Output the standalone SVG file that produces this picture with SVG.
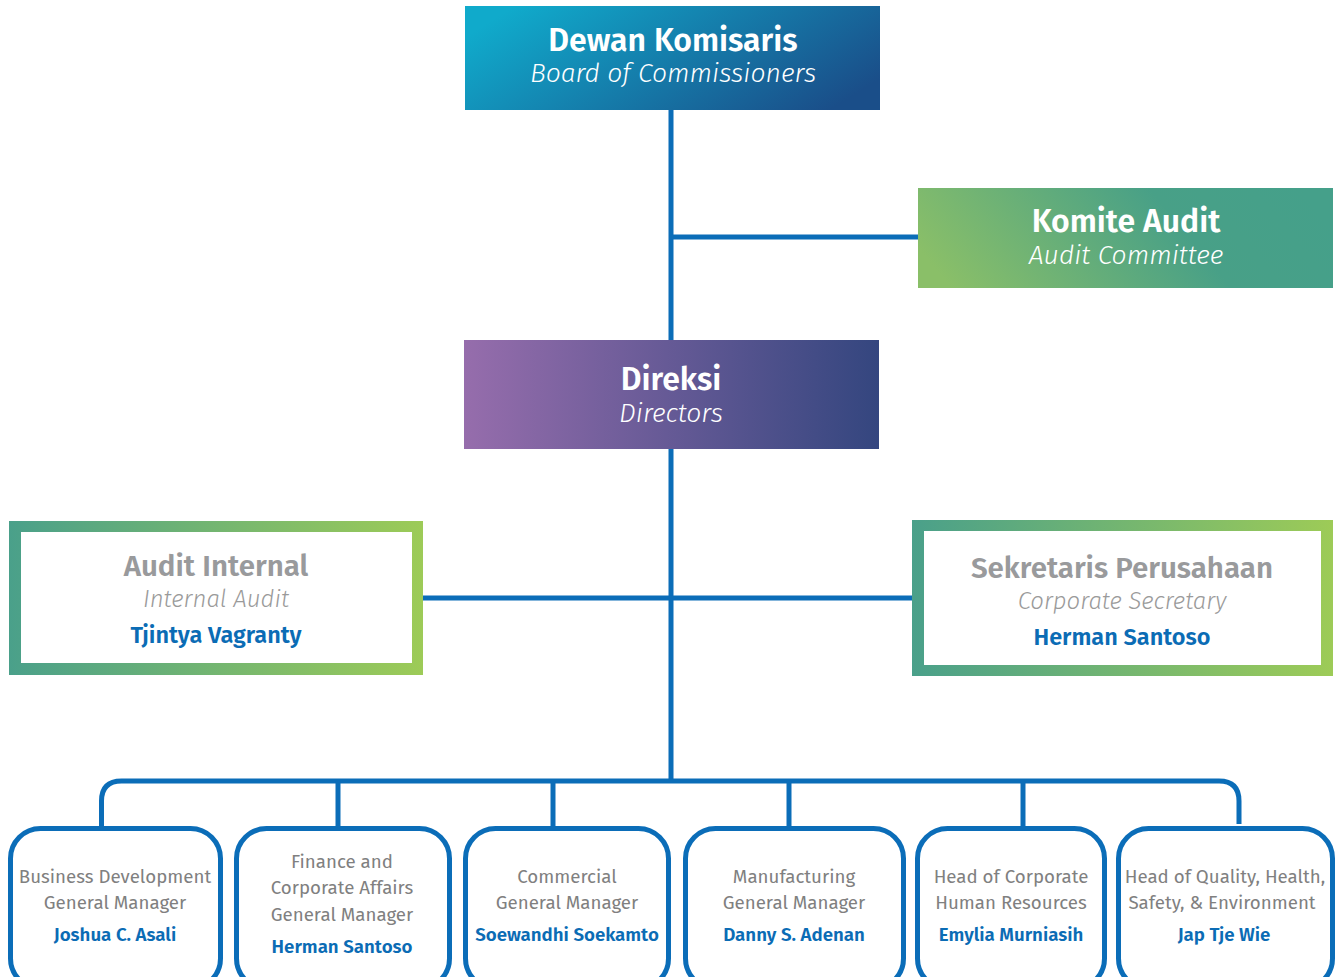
<svg xmlns="http://www.w3.org/2000/svg" width="1340" height="977" viewBox="0 0 1340 977">
<defs>
<linearGradient id="gTop" x1="0" y1="0.3" x2="1" y2="0.7">
<stop offset="0" stop-color="#10aacb"/><stop offset="1" stop-color="#1a4e89"/>
</linearGradient>
<linearGradient id="gKomite" x1="0" y1="0.6" x2="1" y2="0.4">
<stop offset="0" stop-color="#8abf68"/><stop offset="0.65" stop-color="#48a087"/><stop offset="1" stop-color="#45a08a"/>
</linearGradient>
<linearGradient id="gDir" x1="0" y1="0" x2="1" y2="0">
<stop offset="0" stop-color="#966dac"/><stop offset="1" stop-color="#34467f"/>
</linearGradient>
<linearGradient id="gBorder" x1="0" y1="0" x2="1" y2="0">
<stop offset="0" stop-color="#4aa08a"/><stop offset="1" stop-color="#9dcb57"/>
</linearGradient>
<style>
.ln{fill:none;stroke:#0b6db8;stroke-width:5}
.t{font-family:"Fira Sans",Roboto,"Noto Sans",sans-serif;text-anchor:middle}
.hb{font-weight:600;fill:#fff;font-size:32px}
.hi{font-style:italic;font-weight:300;fill:#fff;font-size:26.5px}
.gb{font-weight:600;fill:#999a9c;font-size:29.5px}
.gi{font-style:italic;font-weight:300;fill:#9a9a9a;font-size:24px}
.nb{font-weight:600;fill:#0b6cb5;font-size:23.5px}
.bx{fill:#fff;stroke:#0b6db8;stroke-width:5}
.st{fill:#808080;font-size:18.7px}
.sn{font-weight:600;fill:#0b6cb5;font-size:18.7px}
</style>
</defs>
<g id="connectors">
<line class="ln" x1="671" y1="108" x2="671" y2="783"/>
<line class="ln" x1="671" y1="237" x2="920" y2="237"/>
<line class="ln" x1="421" y1="598" x2="914" y2="598"/>
<path class="ln" d="M101.5,826 V801 Q101.5,781 121.5,781 H1219 Q1239,781 1239,801 V824"/>
<line class="ln" x1="338" y1="781" x2="338" y2="828"/>
<line class="ln" x1="553" y1="781" x2="553" y2="828"/>
<line class="ln" x1="789" y1="781" x2="789" y2="828"/>
<line class="ln" x1="1023" y1="781" x2="1023" y2="828"/>
</g>
<g id="dewan">
<rect x="465" y="6" width="415" height="104" fill="url(#gTop)"/>
<text class="t hb" x="673" y="51">Dewan Komisaris</text>
<text class="t hi" x="673" y="82">Board of Commissioners</text>
</g>
<g id="komite">
<rect x="918" y="188" width="415" height="100" fill="url(#gKomite)"/>
<text class="t hb" x="1126" y="232">Komite Audit</text>
<text class="t hi" x="1126" y="264">Audit Committee</text>
</g>
<g id="direksi">
<rect x="464" y="340" width="415" height="109" fill="url(#gDir)"/>
<text class="t hb" x="671" y="390">Direksi</text>
<text class="t hi" x="671" y="422">Directors</text>
</g>
<g id="audit-internal">
<rect x="9" y="521" width="414" height="154" fill="url(#gBorder)"/>
<rect x="21" y="532" width="391" height="131" fill="#fff"/>
<text class="t gb" x="216" y="576">Audit Internal</text>
<text class="t gi" x="216" y="607">Internal Audit</text>
<text class="t nb" x="216" y="643">Tjintya Vagranty</text>
</g>
<g id="sekretaris">
<rect x="912" y="520" width="421" height="156" fill="url(#gBorder)"/>
<rect x="924" y="531" width="397" height="134" fill="#fff"/>
<text class="t gb" x="1122" y="578">Sekretaris Perusahaan</text>
<text class="t gi" x="1122" y="609">Corporate Secretary</text>
<text class="t nb" x="1122" y="645">Herman Santoso</text>
</g>
<g id="bizdev">
<rect class="bx" x="10.5" y="828.5" width="210" height="160" rx="30"/>
<text class="t st" x="115" y="883">Business Development</text>
<text class="t st" x="115" y="909">General Manager</text>
<text class="t sn" x="115" y="941">Joshua C. Asali</text>
</g>
<g id="finance">
<rect class="bx" x="236.5" y="828.5" width="213" height="160" rx="30"/>
<text class="t st" x="342" y="868">Finance and</text>
<text class="t st" x="342" y="894">Corporate Affairs</text>
<text class="t st" x="342" y="921">General Manager</text>
<text class="t sn" x="342" y="953">Herman Santoso</text>
</g>
<g id="commercial">
<rect class="bx" x="465.5" y="828.5" width="203" height="160" rx="30"/>
<text class="t st" x="567" y="883">Commercial</text>
<text class="t st" x="567" y="909">General Manager</text>
<text class="t sn" x="567" y="941">Soewandhi Soekamto</text>
</g>
<g id="manufacturing">
<rect class="bx" x="685.5" y="828.5" width="218" height="160" rx="30"/>
<text class="t st" x="794" y="883">Manufacturing</text>
<text class="t st" x="794" y="909">General Manager</text>
<text class="t sn" x="794" y="941">Danny S. Adenan</text>
</g>
<g id="hr">
<rect class="bx" x="917.5" y="828.5" width="187" height="160" rx="30"/>
<text class="t st" x="1011" y="883">Head of Corporate</text>
<text class="t st" x="1011" y="909">Human Resources</text>
<text class="t sn" x="1011" y="941">Emylia Murniasih</text>
</g>
<g id="qhse">
<rect class="bx" x="1118.5" y="828.5" width="214" height="160" rx="30"/>
<text class="t st" x="1225" y="883">Head of Quality, Health,</text>
<text class="t st" x="1222" y="909">Safety, &amp; Environment</text>
<text class="t sn" x="1224" y="941">Jap Tje Wie</text>
</g>
</svg>
